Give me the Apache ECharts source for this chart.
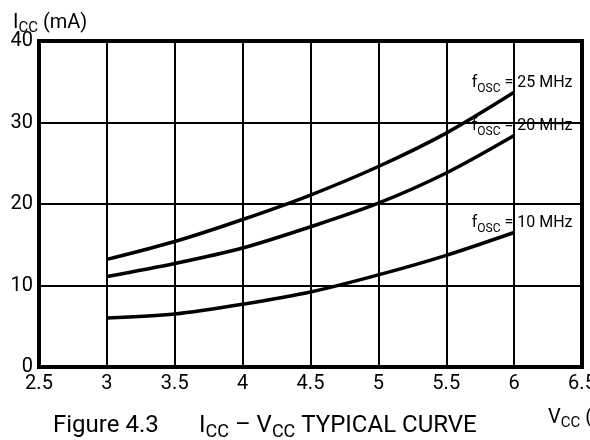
<!DOCTYPE html>
<html>
<head>
<meta charset="utf-8">
<script src="https://cdn.jsdelivr.net/npm/echarts@6/dist/echarts.min.js"></script>
<style>
  html, body { margin: 0; padding: 0; background: #fff; }
  #chart { width: 590px; height: 440px; }
</style>
</head>
<body>
<div id="chart"></div>
<script>
// supply voltage (V)
const vcc = [3, 3.5, 4, 4.5, 5, 5.5, 6];
// supply current (mA) for each oscillator frequency
const icc25 = [13.2, 15.4, 18.1, 21.1, 24.6, 28.7, 33.7];
const icc20 = [11.1, 12.7, 14.6, 17.2, 20.1, 23.8, 28.4];
const icc10 = [6.0, 6.5, 7.7, 9.2, 11.3, 13.7, 16.5];
const freqs = ['25', '20', '10'];

const FONT = 'Roboto';

function sub(big, small, drop) {
  return {
    b: { fontFamily: FONT, fontSize: big, fontWeight: 'normal', color: '#000', lineHeight: big + 4, verticalAlign: 'top' },
    s: { fontFamily: FONT, fontSize: small, fontWeight: 'normal', color: '#000', lineHeight: small + 2, verticalAlign: 'top', padding: [drop, 0, 0, 0] }
  };
}

function curve(name, ys) {
  const last = ys.length - 1;
  return {
    name: name,
    type: 'line',
    // only the last point carries the f_OSC label
    data: vcc.map((v, i) => i === last ? {
      value: [v, ys[i]],
      label: {
        show: true,
        position: 'top',
        distance: 1,
        offset: [8, 4],
        formatter: '{b|f}{s|OSC}{b| = ' + name + ' MHz}',
        rich: sub(16, 12, 8)
      }
    } : [v, ys[i]]),
    smooth: 0.3,
    symbol: 'circle',
    symbolSize: 1,
    showSymbol: true,
    itemStyle: { color: 'rgba(0,0,0,0)' },
    lineStyle: { color: '#000', width: 3.5 },
    label: { show: false },
    z: 5
  };
}

const chart = echarts.init(document.getElementById('chart'));

const option = {
  animation: false,
  backgroundColor: '#fff',
  title: [
    {
      // y axis name
      text: '{b|I}{s|CC}{b| (mA)}',
      left: 8, top: 8,
      textStyle: { fontWeight: 'normal', rich: sub(20, 15, 8) }
    },
    {
      // x axis name (cut by the right edge like the original)
      text: '{b|V}{s|CC}{b| (V)}',
      left: 543, top: 403,
      textStyle: { fontWeight: 'normal', rich: sub(20, 15, 8) }
    },
    {
      text: 'Figure 4.3',
      left: 48, top: 409,
      textStyle: { fontFamily: FONT, fontSize: 24, fontWeight: 'normal', color: '#000' }
    },
    {
      text: '{b|I}{s|CC}{b| – V}{s|CC}{b| TYPICAL CURVE}',
      left: 194, top: 409,
      textStyle: { fontWeight: 'normal', rich: sub(24, 18, 9) }
    }
  ],
  grid: {
    left: 39,
    right: 8,
    top: 41,
    bottom: 73,
    outerBoundsMode: 'none',
    containLabel: false,
    show: true,
    borderColor: '#000',
    borderWidth: 4
  },
  xAxis: {
    type: 'value',
    min: 2.5,
    max: 6.5,
    interval: 0.5,
    axisLine: { show: true, lineStyle: { color: '#000', width: 4 } },
    axisTick: { show: false },
    axisLabel: { color: '#000', fontFamily: FONT, fontSize: 20, margin: 7 },
    splitLine: { show: true, lineStyle: { color: '#000', width: 2 } }
  },
  yAxis: {
    type: 'value',
    min: 0,
    max: 40,
    interval: 10,
    axisLine: { show: true, lineStyle: { color: '#000', width: 4 } },
    axisTick: { show: false },
    axisLabel: { color: '#000', fontFamily: FONT, fontSize: 20, margin: 6 },
    splitLine: { show: true, lineStyle: { color: '#000', width: 2 } }
  },
  series: [
    curve(freqs[0], icc25),
    curve(freqs[1], icc20),
    curve(freqs[2], icc10)
  ]
};

chart.setOption(option);
</script>
</body>
</html>
